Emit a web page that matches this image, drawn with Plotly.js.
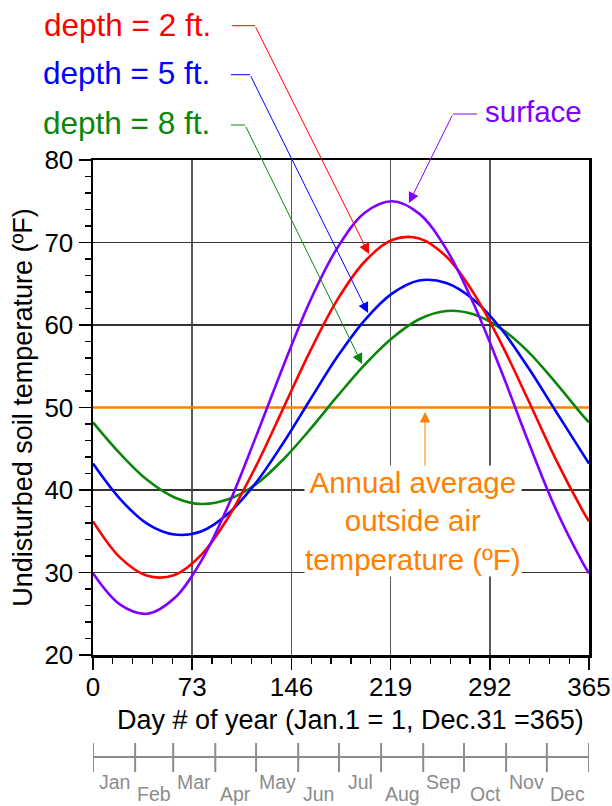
<!DOCTYPE html>
<html>
<head>
<meta charset="utf-8">
<script src="https://cdn.plot.ly/plotly-3.0.1.min.js"></script>
<style>html,body{margin:0;padding:0;background:#fff;}#chart{width:612px;height:806px;}</style>
</head>
<body>
<div id="chart"></div>
<script>
// ---- data ----
const days      = [0, 20, 40, 60, 80, 100, 120, 140, 160, 180, 200, 220, 240, 260, 280, 300, 320, 340, 360, 365];
const surface   = [29.9, 26.1, 25.0, 26.9, 31.5, 38.3, 46.5, 55.0, 63.0, 69.4, 73.6, 75.0, 73.5, 69.2, 62.6, 54.6, 46.0, 37.9, 31.3, 29.9];
const depth2ft  = [36.2, 31.8, 29.6, 29.7, 32.2, 36.8, 42.9, 49.9, 56.9, 63.1, 67.7, 70.3, 70.5, 68.3, 63.9, 57.9, 51.0, 43.9, 37.6, 36.2];
const depth5ft  = [43.2, 38.9, 35.9, 34.6, 35.0, 37.2, 40.9, 45.7, 51.0, 56.2, 60.6, 63.8, 65.4, 65.1, 63.1, 59.6, 54.9, 49.7, 44.5, 43.2];
const depth8ft  = [48.2, 44.4, 41.2, 39.1, 38.3, 38.9, 40.7, 43.7, 47.4, 51.4, 55.2, 58.4, 60.7, 61.7, 61.3, 59.6, 56.8, 53.1, 49.1, 48.2];
const avgDays   = [0, 365];
const avgTemp   = [50, 50];
const xTicks    = [0, 73, 146, 219, 292, 365];
const yTicks    = [20, 30, 40, 50, 60, 70, 80];
const monthStarts = [0, 31, 59, 90, 120, 151, 181, 212, 243, 273, 304, 334, 365];
const monthNames  = ['Jan','Feb','Mar','Apr','May','Jun','Jul','Aug','Sep','Oct','Nov','Dec'];

const FONT = 'Liberation Sans, Arial, Helvetica, sans-serif';
const C = {red:'#ff0000', blue:'#0000ff', green:'#0a870a', purple:'#8000ff', orange:'#ff8000', month:'#8c8c8c'};

function line(x, y, color, name){
  return {x:x, y:y, type:'scatter', mode:'lines', name:name,
          line:{color:color, width:2.6, shape:'spline', smoothing:1}, hoverinfo:'skip', cliponaxis:true};
}
const traces = [
  line(avgDays, avgTemp, C.orange, 'Annual average outside air temperature'),
  line(days, depth8ft, C.green, 'depth = 8 ft.'),
  line(days, depth5ft, C.blue, 'depth = 5 ft.'),
  line(days, depth2ft, C.red, 'depth = 2 ft.'),
  line(days, surface, C.purple, 'surface')
];

// pixel helpers for paper coordinates (plot area: x 93..589, y 160..655)
const L=93, R=589, T=160, B=655;
const px = v => (v-L)/(R-L);
const py = v => (B-v)/(B-T);

const shapes = [];
const annotations = [];

// month scale below the day axis
shapes.push({type:'line', xref:'x', yref:'paper', x0:monthStarts[0], x1:monthStarts[monthStarts.length-1], y0:py(757), y1:py(757), line:{color:C.month, width:2}});
monthStarts.forEach(d => shapes.push({type:'line', xref:'x', yref:'paper', x0:d, x1:d, y0:py(743), y1:py(772), line:{color:C.month, width:2}}));
monthNames.forEach((m,i) => annotations.push({
  xref:'x', yref:'paper', x:(monthStarts[i]+monthStarts[i+1])/2, y:py(i%2===0 ? 782 : 794),
  text:m, showarrow:false, xanchor:'center', yanchor:'middle', font:{family:FONT, size:19.5, color:C.month}
}));

// leader lines (horizontal parts)
function hseg(x0,x1,y,color){ shapes.push({type:'line', xref:'paper', yref:'paper', x0:px(x0), x1:px(x1), y0:py(y), y1:py(y), line:{color:color, width:1}}); }
hseg(232,255,25.7,C.red);
hseg(231,250,74.7,C.blue);
hseg(231,245,125,C.green);
hseg(453,477,114,C.purple);

// arrows (tip in data coords, tail offset in px)
function arrow(x,y,ax,ay,color){
  annotations.push({xref:'x', yref:'y', x:x, y:y, ax:ax, ay:ay, text:'', showarrow:true,
    arrowhead:2, arrowsize:2.1, arrowwidth:1, arrowcolor:color, standoff:0, startstandoff:0});
}
arrow(203.1, 68.6, -114, -228.3, C.red);
arrow(202.4, 61.45, -118, -238.3, C.blue);
arrow(198.0, 55.27, -117, -239, C.green);
arrow(232.5, 74.79, 44, -89, C.purple);
arrow(244.3, 49.45, 0, 58, C.orange);

// labels
function label(text, xr, yc, color, anchor, size){
  annotations.push({xref:'paper', yref:'paper', x:px(xr), y:py(yc), text:text, showarrow:false,
    xanchor:anchor, yanchor:'middle', font:{family:FONT, size:size, color:color}});
}
label('depth = 2 ft.', 213, 25, C.red, 'right', 31.5);
label('depth = 5 ft.', 212, 73, C.blue, 'right', 31.5);
label('depth = 8 ft.', 212, 123, C.green, 'right', 31.5);
label('surface', 483, 111, C.purple, 'left', 29.5);

annotations.push({xref:'x', yref:'y', x:235.5, y:36.3, text:'Annual average<br>outside air<br>temperature (ºF)',
  showarrow:false, xanchor:'center', yanchor:'middle', align:'center', bgcolor:'#ffffff', borderpad:0,
  font:{family:FONT, size:29.5, color:C.orange}});

// x-axis title (placed to match the reference position)
annotations.push({xref:'paper', yref:'paper', x:px(350), y:py(720), text:'Day # of year (Jan.1 = 1, Dec.31 =365)',
  showarrow:false, xanchor:'center', yanchor:'middle', font:{family:FONT, size:27, color:'#000'}});

const layout = {
  width:612, height:806,
  margin:{l:L, r:612-R, t:T, b:806-B, pad:0},
  paper_bgcolor:'#ffffff', plot_bgcolor:'#ffffff',
  showlegend:false,
  font:{family:FONT, color:'#000'},
  xaxis:{
    range:[0,365], tickmode:'array', tickvals:xTicks, ticktext:xTicks.map(String),
    ticks:'outside', ticklen:12, tickwidth:1.5, tickcolor:'#000', ticklabelstandoff:-5,
    minor:{dtick:14.6, tick0:0, ticks:'outside', ticklen:6, tickwidth:1.2, tickcolor:'#000', showgrid:false},
    showgrid:true, gridcolor:'#5a5a5a', gridwidth:1.5, zeroline:false,
    showline:true, linecolor:'#000', linewidth:2.5, mirror:true,
    tickfont:{family:FONT, size:26, color:'#000'}
  },
  yaxis:{
    range:[20,80], tickmode:'array', tickvals:yTicks, ticktext:yTicks.map(String),
    ticks:'outside', ticklen:12, tickwidth:1.5, tickcolor:'#000',
    minor:{dtick:2, tick0:0, ticks:'outside', ticklen:6, tickwidth:1.2, tickcolor:'#000', showgrid:false},
    showgrid:true, gridcolor:'#333', gridwidth:1.2, zeroline:false,
    showline:true, linecolor:'#000', linewidth:2.5, mirror:true,
    tickfont:{family:FONT, size:26, color:'#000'},
    title:{text:'Undisturbed soil temperature (ºF)', font:{family:FONT, size:27, color:'#000'}, standoff:4}
  },
  shapes:shapes,
  annotations:annotations
};

Plotly.newPlot('chart', traces, layout, {displayModeBar:false, staticPlot:true});
</script>
</body>
</html>
